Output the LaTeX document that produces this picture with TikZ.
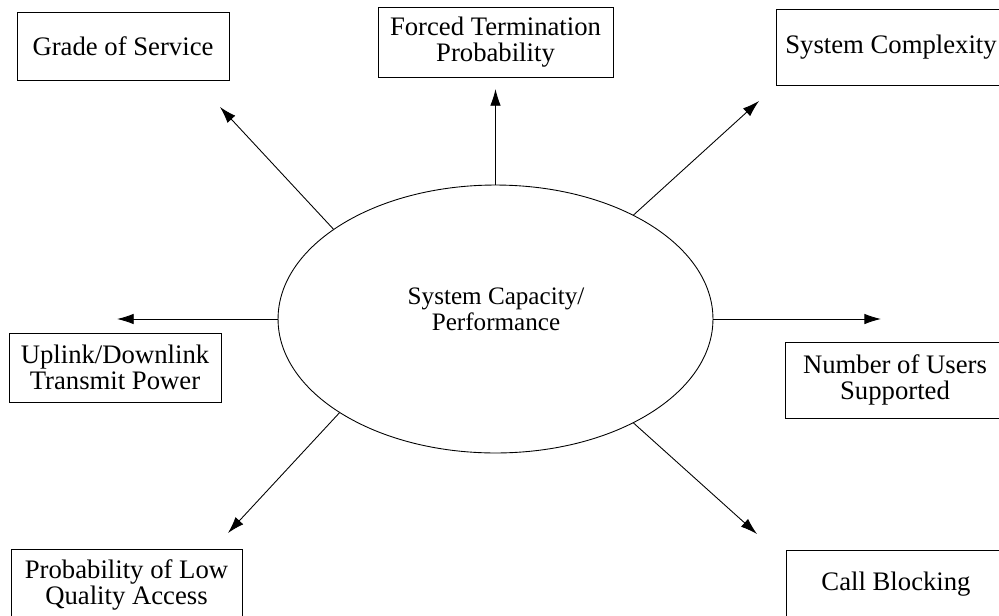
\documentclass[tikz,border=0pt]{standalone}
\usepackage{fontspec}
\setmainfont{Liberation Serif}
\usepackage{tikz}
\usetikzlibrary{arrows.meta}
\usetikzlibrary{shapes.geometric}
\tikzset{flow/.style = {line width=0.5pt, -{Latex[length=9.5pt, width=6pt]}}}
\tikzset{factor/.style = {draw, line width=0.5pt, align=center, inner sep=0,
                          font=\fontsize{15.2}{14.6}\selectfont}}
\tikzset{hub/.style = {draw, ellipse, line width=0.5pt, inner sep=0,
                       minimum width=8.7cm, minimum height=5.36cm}}

\begin{document}
\begin{tikzpicture}[x=0.02cm, y=-0.02cm]
      \useasboundingbox (0, 0) rectangle (999, 615);
      \clip (0, 0) rectangle (999, 615);
      \node [hub] (cap) at (495.5, 319) {};
      \node [align=center, inner sep=0, font=\fontsize{14.3}{14.6}\selectfont] (capl) at (496, 309)
            {System Capacity/\\Performance};
      \node [factor, minimum width=4.24cm, minimum height=1.36cm] (gos) at (123, 46) {Grade of Service};
      \node [factor, minimum width=4.7cm, minimum height=1.4cm] (ftp) at (495.5, 42) {Forced Termination\\Probability};
      \node [factor, minimum width=4.6cm, minimum height=1.52cm] (sc) at (891, 47) {System Complexity};
      \node [factor, minimum width=4.24cm, minimum height=1.38cm] (udt) at (115, 367.5) {Uplink/Downlink\\Transmit Power};
      \node [factor, minimum width=4.4cm, minimum height=1.52cm] (nus) at (895, 380) {Number of Users\\Supported};
      \node [factor, minimum width=4.62cm, minimum height=1.44cm] (plq) at (126.5, 585) {Probability of Low\\Quality Access};
      \node [factor, minimum width=4.4cm, minimum height=1.36cm] (cb) at (896, 584) {Call Blocking};
      % free ends of the arrows
      \coordinate (t-gos) at (220, 107);
      \coordinate (t-ftp) at (495.5, 89);
      \coordinate (t-sc) at (759, 101);
      \coordinate (t-udt) at (117, 319);
      \coordinate (t-nus) at (881, 319);
      \coordinate (t-plq) at (228, 533);
      \coordinate (t-cb) at (757, 534);
      \draw [flow] (cap.151) -- (t-gos);
      \draw [flow] (cap.90) -- (t-ftp);
      \draw [flow] (cap.37) -- (t-sc);
      \draw [flow] (cap.180) -- (t-udt);
      \draw [flow] (cap.0) -- (t-nus);
      \draw [flow] (cap.211.7) -- (t-plq);
      \draw [flow] (cap.323.9) -- (t-cb);
    \end{tikzpicture}
\end{document}
